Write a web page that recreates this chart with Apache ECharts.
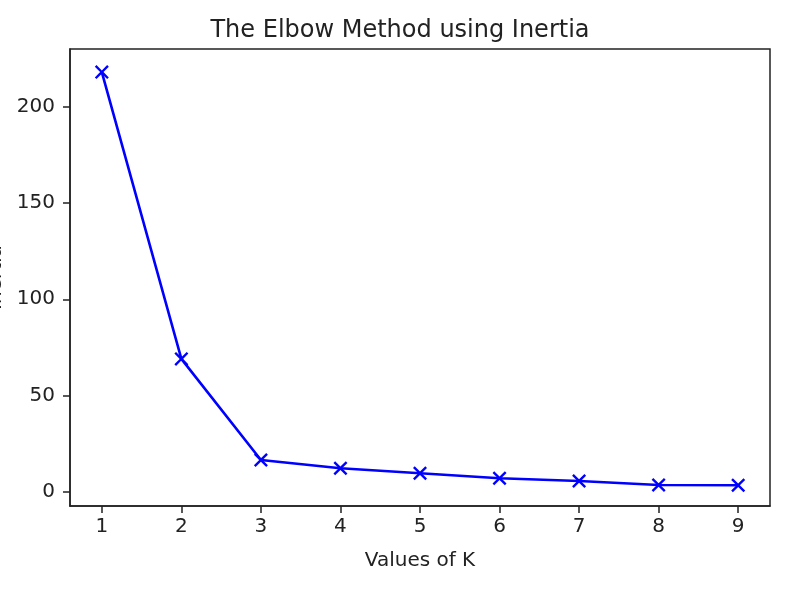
<!DOCTYPE html>
<html>
<head>
<meta charset="utf-8">
<script src="https://cdn.jsdelivr.net/npm/echarts@6/dist/echarts.min.js"></script>
<style>html,body{margin:0;padding:0;background:#fff}#c{width:800px;height:600px}</style>
</head>
<body>
<div id="c"></div>
<script>
const kValues = [1, 2, 3, 4, 5, 6, 7, 8, 9];
const inertia = [218, 69, 16.5, 12.2, 9.6, 7.0, 5.6, 3.5, 3.4];
const xTicks = [1, 2, 3, 4, 5, 6, 7, 8, 9];
const yTicks = [0, 50, 100, 150, 200];

const chart = echarts.init(document.getElementById('c'), null, {renderer: 'canvas'});
const font = 'DejaVu Sans';
const xMark = 'path://M0,1.2L1.2,0L5,3.8L8.8,0L10,1.2L6.2,5L10,8.8L8.8,10L5,6.2L1.2,10L0,8.8L3.8,5Z';
chart.setOption({
  animation: false,
  backgroundColor: '#fff',
  title: {
    text: 'The Elbow Method using Inertia',
    left: 'center',
    top: 14,
    textStyle: {fontFamily: font, fontSize: 24, fontWeight: 'normal', color: '#222'}
  },
  grid: {left: 70, right: 30, top: 49, bottom: 94, show: true, borderColor: '#222', borderWidth: 1.5,
         backgroundColor: 'transparent', containLabel: false, outerBoundsMode: 'none'},
  xAxis: {
    type: 'value', min: 0.6, max: 9.4,
    name: 'Values of K', nameLocation: 'middle', nameGap: 45,
    nameTextStyle: {fontFamily: font, fontSize: 20, color: '#222'},
    axisLine: {show: true, onZero: false, lineStyle: {color: '#222', width: 1.5}},
    axisTick: {show: true, length: 7, customValues: xTicks, lineStyle: {color: '#222', width: 1.5}},
    axisLabel: {customValues: xTicks, margin: 11, fontFamily: font, fontSize: 20, color: '#222'},
    splitLine: {show: false}
  },
  yAxis: {
    type: 'value', min: -7.4, max: 230,
    name: 'Inertia', nameLocation: 'middle', nameGap: 63, nameRotate: 90,
    nameTextStyle: {fontFamily: font, fontSize: 20, color: '#222'},
    axisLine: {show: true, onZero: false, lineStyle: {color: '#222', width: 1.5}},
    axisTick: {show: true, length: 7, customValues: yTicks, lineStyle: {color: '#222', width: 1.5}},
    axisLabel: {customValues: yTicks, margin: 15, fontFamily: font, fontSize: 20, color: '#222'},
    splitLine: {show: false}
  },
  series: [{
    type: 'line',
    data: kValues.map((k, i) => [k, inertia[i]]),
    lineStyle: {color: '#0000ff', width: 2.6},
    itemStyle: {color: '#0000ff'},
    symbol: xMark,
    symbolSize: 14,
    showSymbol: true
  }]
});
</script>
</body>
</html>
